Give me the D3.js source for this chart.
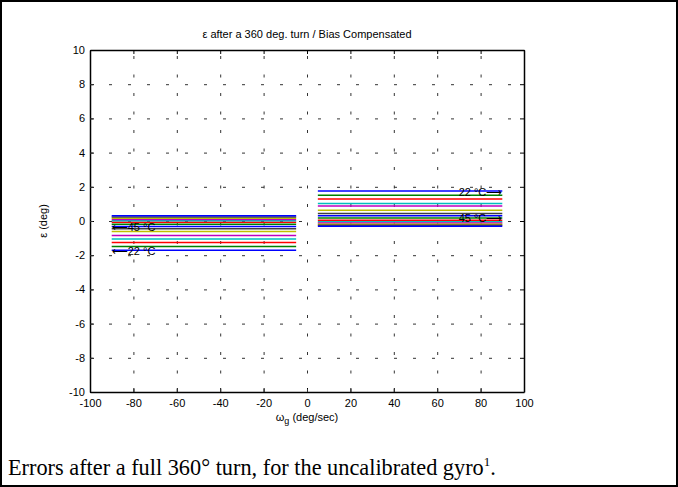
<!DOCTYPE html>
<html>
<head>
<meta charset="utf-8">
<script src="https://cdn.jsdelivr.net/npm/d3@7"></script>
<style>
	body { margin: 0; background: #fff; }
</style>
</head>
<body>
<svg id="svg" width="678" height="487" font-family="'Liberation Sans', Arial, sans-serif"></svg>
<script>
const width = 678;
const height = 487;
const lineWidth = 1.5;
const tickSize = 4;
const gridColor = '#333';
const fontSize = 11;
let xScale;
let yScale;

const paddings = {
	left: 90,
	top: 50,
	right: 154,
	bottom: 95
};

// MATLAB default colour order
const colors = ['#0000ff', '#008000', '#ff0000', '#00bfbf', '#bf00bf', '#bfbf00', '#404040'];

const xTicks = [-100, -80, -60, -40, -20, 0, 20, 40, 60, 80, 100];
const yTicks = [-10, -8, -6, -4, -2, 0, 2, 4, 6, 8, 10];

// rate ranges for the two sets of runs
const leftRates = [-90, -5];
const rightRates = [5, 90];

// epsilon per temperature run, 22 °C first
const leftErrors = [-1.71, -1.49, -1.26, -1.05, -0.85, -0.62, -0.46, -0.32, -0.19, -0.07, 0.01, 0.09, 0.16, 0.24, 0.30];
const rightErrors = [1.76, 1.51, 1.28, 1.02, 0.87, 0.63, 0.44, 0.30, 0.18, 0.05, -0.05, -0.12, -0.19, -0.25, -0.30];

// temperature annotations: [x, y, label, side]
const notes = [
	[-90, -0.35, '45 \u00b0C', 'start'],
	[-90, -1.77, '22 \u00b0C', 'start'],
	[90, 1.70, '22 \u00b0C', 'end'],
	[90, 0.15, '45 \u00b0C', 'end']
];

const svg = d3.select('#svg');
const plotW = width - paddings.left - paddings.right;
const plotH = height - paddings.top - paddings.bottom;

generateAxis();
generateGrids();
renderData();
renderTexts();


function generateAxis() {
	xScale = d3.scaleLinear()
		.domain([-100, 100])
		.range([paddings.left, width - paddings.right]);

	yScale = d3.scaleLinear()
		.domain([-10, 10])
		.range([height - paddings.bottom, paddings.top]);

	const axes = [
		[d3.axisBottom(xScale).tickValues(xTicks), 'x-axis-group', 0, height - paddings.bottom, true],
		[d3.axisTop(xScale).tickValues(xTicks), 'x-top', 0, paddings.top, false],
		[d3.axisLeft(yScale).tickValues(yTicks), 'y-axis-group', paddings.left, 0, true],
		[d3.axisRight(yScale).tickValues(yTicks), 'y-right', width - paddings.right, 0, false]
	];

	axes.forEach(([axis, cls, tx, ty, labels]) => {
		const g = svg.append('g')
			.attr('class', cls)
			.attr('transform', 'translate(' + tx + ',' + ty + ')')
			.call(axis.tickSizeInner(-tickSize).tickSizeOuter(0).tickPadding(10).tickFormat(d => String(d)));
		g.attr('font-family', null);
		g.select('.domain').attr('stroke', '#000').attr('stroke-width', 1.5);
		g.selectAll('.tick line').attr('stroke', '#000');
		if (labels) {
			g.attr('font-size', fontSize);
			g.selectAll('.tick text').attr('fill', '#000');
		} else {
			g.selectAll('.tick text').remove();
		}
	});

	svg.selectAll('.y-axis-group .tick text').attr('x', -5);
	svg.selectAll('.x-axis-group .tick text').attr('y', 7);
}

function generateGrids() {
	svg.selectAll('.x-axis-group .tick')
		.filter(d => d > -100 && d < 100)
		.append('line')
		.classed('grid-line', true)
		.attr('x1', 0)
		.attr('y1', 0)
		.attr('x2', 0)
		.attr('y2', -plotH)
		.attr('stroke', gridColor)
		.attr('stroke-width', 1)
		.attr('stroke-dasharray', '3,15.5');

	svg.selectAll('.y-axis-group .tick')
		.filter(d => d > -10 && d < 10)
		.append('line')
		.classed('grid-line', true)
		.attr('x1', 0)
		.attr('y1', 0)
		.attr('x2', plotW)
		.attr('y2', 0)
		.attr('stroke', gridColor)
		.attr('stroke-width', 1)
		.attr('stroke-dasharray', '3,16');
}

function renderData() {
	const line = d3.line()
		.x(d => xScale(d[0]))
		.y(d => yScale(d[1]));

	const runs = [];
	leftErrors.forEach((e, i) => runs.push({ pts: leftRates.map(x => [x, e]), color: colors[i % colors.length] }));
	rightErrors.forEach((e, i) => runs.push({ pts: rightRates.map(x => [x, e]), color: colors[i % colors.length] }));

	svg.append('g')
		.classed('path', true)
		.selectAll('path')
		.data(runs)
		.enter()
		.append('path')
		.attr('d', d => line(d.pts))
		.style('fill', 'none')
		.style('stroke', d => d.color)
		.style('stroke-width', lineWidth);
}

function renderTexts() {
	const arrowFont = "'DejaVu Sans', sans-serif";
	const noteText = svg.append('g')
		.selectAll('text')
		.data(notes)
		.enter()
		.append('text')
		.attr('x', d => xScale(d[0]))
		.attr('y', d => yScale(d[1]))
		.attr('dy', '0.35em')
		.attr('text-anchor', d => d[3])
		.attr('font-size', fontSize)
		.attr('fill', '#000');
	noteText.each(function(d) {
		const t = d3.select(this);
		if (d[3] === 'start') {
			t.append('tspan').attr('font-family', arrowFont).attr('font-weight', 200).text('\u27f5');
			t.append('tspan').text(d[2]);
		} else {
			t.append('tspan').text(d[2]);
			t.append('tspan').attr('font-family', arrowFont).attr('font-weight', 200).text('\u27f6');
		}
	});

	svg.append('text')
		.attr('x', (paddings.left + width - paddings.right) / 2)
		.attr('y', 38)
		.attr('text-anchor', 'middle')
		.attr('font-size', fontSize)
		.text('\u03b5 after a 360 deg. turn / Bias Compensated');

	const xl = svg.append('text')
		.attr('x', (paddings.left + width - paddings.right) / 2)
		.attr('y', 421)
		.attr('text-anchor', 'middle')
		.attr('font-size', fontSize);
	xl.append('tspan').text('\u03c9');
	xl.append('tspan').attr('font-size', 9).attr('dy', 3).text('g');
	xl.append('tspan').attr('dy', -3).text(' (deg/sec)');

	svg.append('text')
		.attr('transform', 'translate(47,' + yScale(0) + ') rotate(-90)')
		.attr('text-anchor', 'middle')
		.attr('font-size', fontSize)
		.text('\u03b5 (deg)');

	const cap = svg.append('text')
		.attr('x', 8)
		.attr('y', 475)
		.attr('font-size', 22.3)
		.attr('font-family', "'Liberation Serif', 'Times New Roman', serif")
		.attr('fill', '#000');
	cap.append('tspan').text('Errors after a full 360\u00b0 turn, for the uncalibrated gyro');
	cap.append('tspan').attr('font-size', 13).attr('dy', -9).text('1');
	cap.append('tspan').attr('dy', 9).text('.');

	svg.append('rect')
		.attr('x', 1)
		.attr('y', 1)
		.attr('width', width - 2)
		.attr('height', height - 2)
		.attr('fill', 'none')
		.attr('stroke', '#000')
		.attr('stroke-width', 2);
}
</script>
</body>
</html>
